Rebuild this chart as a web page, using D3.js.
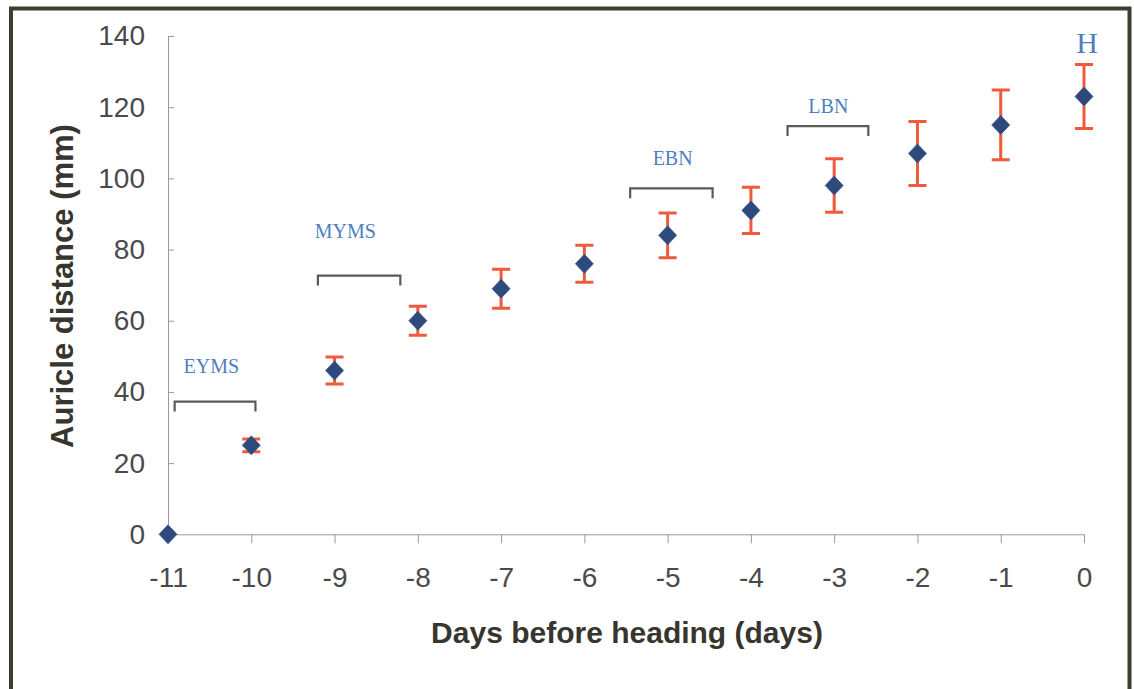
<!DOCTYPE html>
<html>
<head>
<meta charset="utf-8">
<script src="https://cdn.jsdelivr.net/npm/d3@7"></script>
<style>
  html, body { margin: 0; padding: 0; background: #fff; }
  svg { display: block; }
</style>
</head>
<body>
<svg id="chart" width="1134" height="689"></svg>
<script>
// Auricle distance measured on each day before heading (mean ± error)
const days = [-11, -10, -9, -8, -7, -6, -5, -4, -3, -2, -1, 0];
const meanDistance = [0, 25, 46, 60, 69, 76, 84, 91, 98, 107, 115, 123];
const errorSize = [0, 1.8, 3.8, 4.1, 5.5, 5.2, 6.3, 6.5, 7.5, 9, 9.8, 9];

// Axis ticks
const xTicks = [-11, -10, -9, -8, -7, -6, -5, -4, -3, -2, -1, 0];
const yTicks = [0, 20, 40, 60, 80, 100, 120, 140];

// Developmental stage brackets (in day / mm units)
const stageNames = ["EYMS", "MYMS", "EBN", "LBN"];
const stageFrom = [-10.92, -9.2, -5.45, -3.56];
const stageTo = [-9.95, -8.21, -4.46, -2.59];
const stageLevel = [37.3, 72.7, 97.2, 114.7];
const stageTextX = [-10.48, -8.87, -4.94, -3.07];
const stageTextY = [45.3, 83.3, 103.8, 118.4];

// Heading marker
const headingText = "H";
const headingX = 0;
const headingY = 135.2;

const svg = d3.select("#chart");

// Outer frame
svg.append("path")
  .attr("d", "M11,689 V8.5 H1129.5 V689")
  .attr("fill", "none")
  .attr("stroke", "#3d3d30")
  .attr("stroke-width", 4);

const x = d3.scaleLinear().domain([-11, 0]).range([168, 1084]);
const y = d3.scaleLinear().domain([0, 140]).range([534.3, 36]);

const axisColor = "#9a9a9a";
const tickText = "#4a4a4a";

// X axis
const xAxis = svg.append("g")
  .attr("transform", `translate(0,${y(0)})`)
  .call(d3.axisBottom(x).tickValues(xTicks).tickFormat(d => String(d)).tickSize(9).tickPadding(24));
xAxis.select(".domain").attr("stroke", axisColor).attr("d", `M${x(-11)},0.5H${x(0)}`);
xAxis.selectAll(".tick line").attr("stroke", axisColor);
xAxis.selectAll(".tick text")
  .attr("fill", tickText)
  .attr("font-family", "Liberation Sans, Arial, sans-serif")
  .attr("font-size", 28);

// Y axis (ticks pointing inward)
const yAxis = svg.append("g")
  .attr("transform", `translate(${x(-11)},0)`)
  .call(d3.axisLeft(y).tickValues(yTicks).tickSize(-6).tickPadding(23));
yAxis.select(".domain").attr("stroke", axisColor).attr("d", `M0.5,${y(0)}V${y(140)}`);
yAxis.selectAll(".tick line").attr("stroke", axisColor);
yAxis.selectAll(".tick text")
  .attr("fill", tickText)
  .attr("font-family", "Liberation Sans, Arial, sans-serif")
  .attr("font-size", 28);

// Axis titles
svg.append("text")
  .attr("x", 627)
  .attr("y", 643)
  .attr("text-anchor", "middle")
  .attr("font-family", "Liberation Sans, Arial, sans-serif")
  .attr("font-weight", "bold")
  .attr("font-size", 30)
  .attr("fill", "#36362f")
  .text("Days before heading (days)");

svg.append("text")
  .attr("transform", "translate(73,286) rotate(-90)")
  .attr("text-anchor", "middle")
  .attr("font-family", "Liberation Sans, Arial, sans-serif")
  .attr("font-weight", "bold")
  .attr("font-size", 31)
  .attr("fill", "#36362f")
  .text("Auricle distance (mm)");

// Stage brackets
const stages = stageNames.map((name, i) => ({
  name, from: stageFrom[i], to: stageTo[i], level: stageLevel[i],
  tx: stageTextX[i], ty: stageTextY[i]
}));

const drop = 2.8; // bracket leg length in mm
svg.append("g").selectAll("path")
  .data(stages)
  .join("path")
  .attr("d", d => `M${x(d.from)},${y(d.level - drop)}V${y(d.level)}H${x(d.to)}V${y(d.level - drop)}`)
  .attr("fill", "none")
  .attr("stroke", "#5a5a5a")
  .attr("stroke-width", 2.2);

svg.append("g").selectAll("text")
  .data(stages)
  .join("text")
  .attr("x", d => x(d.tx))
  .attr("y", d => y(d.ty))
  .attr("text-anchor", "middle")
  .attr("font-family", "Liberation Serif, Times New Roman, serif")
  .attr("font-size", 20)
  .attr("fill", "#4f7fbf")
  .text(d => d.name);

svg.append("text")
  .attr("x", x(headingX) + 3)
  .attr("y", y(headingY))
  .attr("text-anchor", "middle")
  .attr("font-family", "Liberation Serif, Times New Roman, serif")
  .attr("font-size", 30)
  .attr("fill", "#4f7fbf")
  .text(headingText);

// Data table
const points = days.map((d, i) => ({ day: d, mean: meanDistance[i], err: errorSize[i] }));

// Error bars
const capHalf = 9;
const err = svg.append("g")
  .attr("stroke", "#ef5a3c")
  .attr("stroke-width", 3)
  .attr("fill", "none");
err.selectAll("path")
  .data(points.filter(p => p.err > 0))
  .join("path")
  .attr("d", p => {
    const cx = x(p.day), t = y(p.mean + p.err), b = y(p.mean - p.err);
    return `M${cx},${t}V${b}M${cx - capHalf},${t}H${cx + capHalf}M${cx - capHalf},${b}H${cx + capHalf}`;
  });

// Diamond markers
svg.append("g").selectAll("path")
  .data(points)
  .join("path")
  .attr("transform", p => `translate(${x(p.day)},${y(p.mean)})`)
  .attr("d", "M0,-9.5L9,0L0,9.5L-9,0Z")
  .attr("fill", "#2e4a7d")
  .attr("stroke", "#3a5a8f")
  .attr("stroke-width", 0.8);
</script>
</body>
</html>
